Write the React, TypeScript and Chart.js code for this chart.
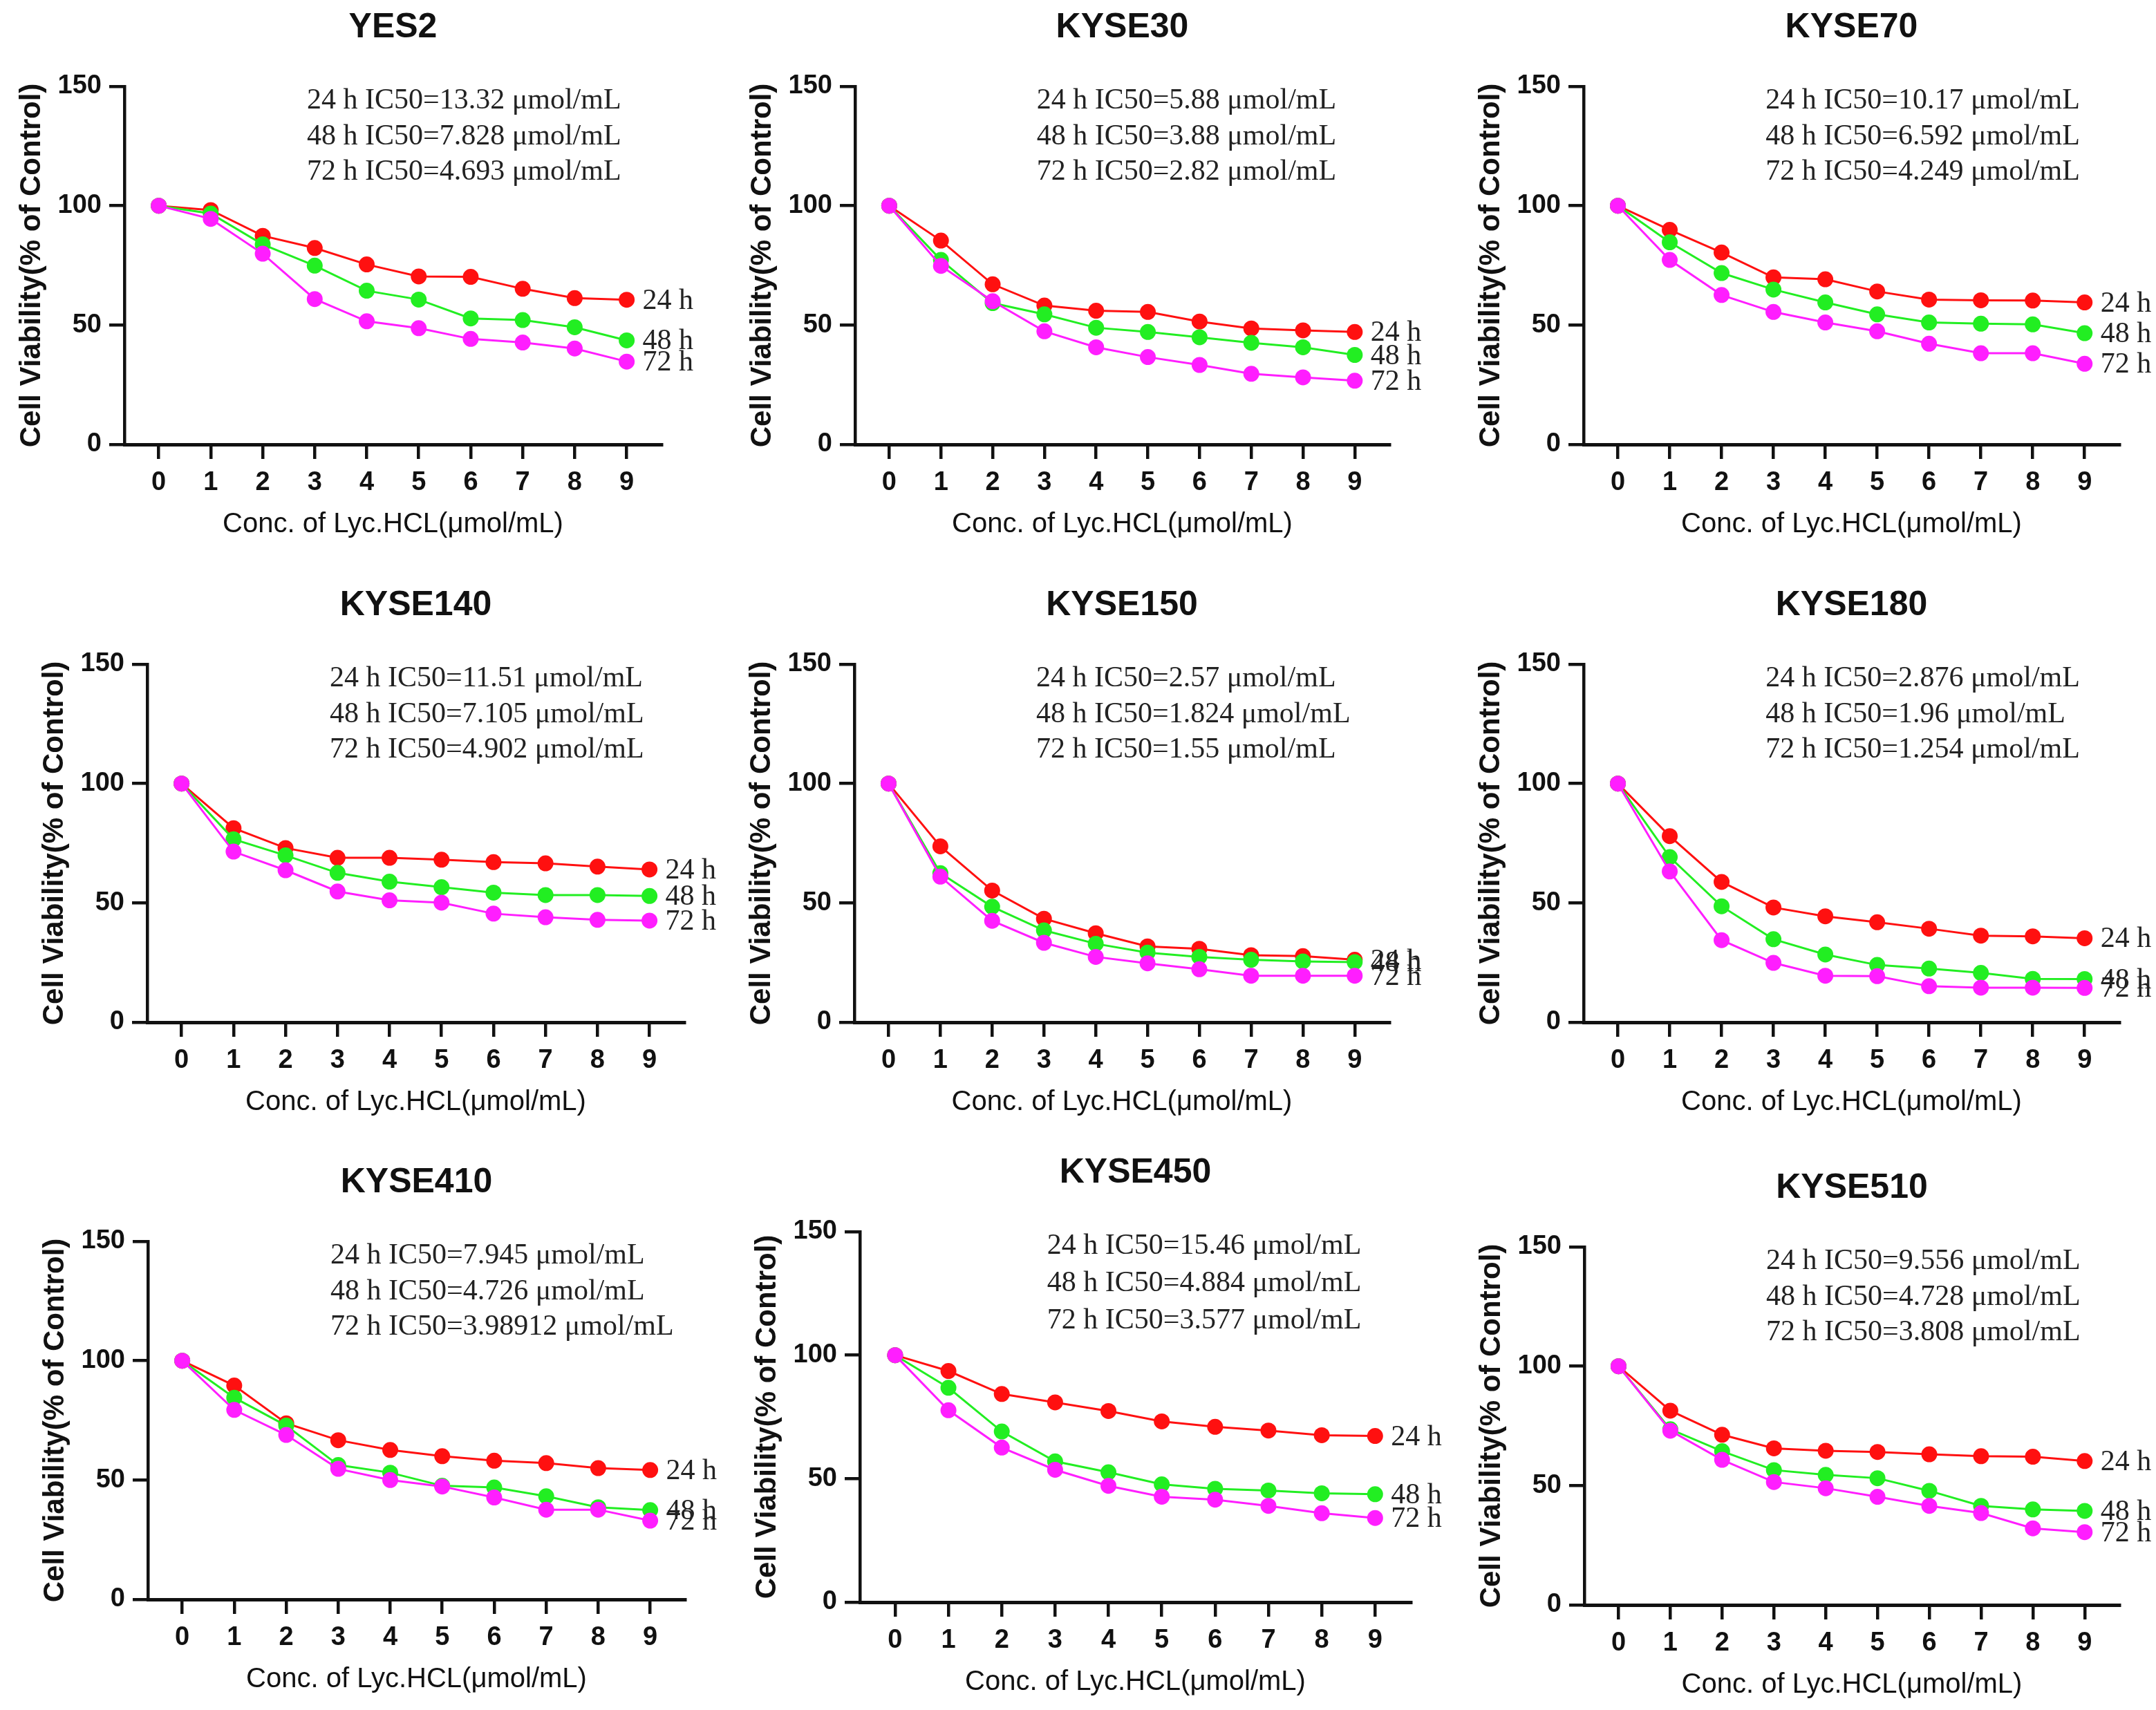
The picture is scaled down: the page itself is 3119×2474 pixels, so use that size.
import React, { useEffect, useRef } from "react";
import { Chart, registerables } from "chart.js";

Chart.register(...registerables);

// ---------- data ----------
const doses = [0, 1, 2, 3, 4, 5, 6, 7, 8, 9];
const timeLabels = ["24 h", "48 h", "72 h"];
const yTicks = [0, 50, 100, 150];

const YES2_24 = [100, 98.2, 87.4, 82.3, 75.4, 70.4, 70.2, 65.2, 61.3, 60.6];
const YES2_48 = [100, 96.7, 83.8, 74.9, 64.4, 60.7, 52.8, 52.1, 49.1, 43.6];
const YES2_72 = [100, 94.5, 79.9, 60.9, 51.6, 48.7, 44.2, 42.7, 40.2, 34.7];
const YES2_IC50 = ["13.32", "7.828", "4.693"];

const KYSE30_24 = [100, 85.4, 67.1, 58.2, 56.0, 55.5, 51.5, 48.6, 47.8, 47.1];
const KYSE30_48 = [100, 77.3, 59.2, 54.5, 48.9, 47.1, 44.9, 42.6, 40.7, 37.5];
const KYSE30_72 = [100, 74.8, 60.0, 47.4, 40.7, 36.6, 33.3, 29.6, 28.1, 26.7];
const KYSE30_IC50 = ["5.88", "3.88", "2.82"];

const KYSE70_24 = [100, 89.9, 80.4, 70.0, 69.2, 64.1, 60.7, 60.4, 60.3, 59.5];
const KYSE70_48 = [100, 84.7, 71.8, 64.9, 59.5, 54.5, 51.1, 50.6, 50.3, 46.6];
const KYSE70_72 = [100, 77.3, 62.6, 55.5, 51.1, 47.4, 42.2, 38.2, 38.2, 33.8];
const KYSE70_IC50 = ["10.17", "6.592", "4.249"];

const KYSE140_24 = [100, 81.3, 73.0, 68.9, 68.9, 68.1, 67.1, 66.6, 65.2, 64.0];
const KYSE140_48 = [100, 76.7, 69.9, 62.6, 58.9, 56.6, 54.3, 53.3, 53.3, 52.9];
const KYSE140_72 = [100, 71.5, 63.7, 54.8, 51.1, 50.1, 45.5, 44.0, 42.9, 42.6];
const KYSE140_IC50 = ["11.51", "7.105", "4.902"];

const KYSE150_24 = [100, 73.7, 55.2, 43.4, 37.3, 31.8, 30.8, 28.1, 27.7, 26.2];
const KYSE150_48 = [100, 62.5, 48.4, 38.5, 32.9, 29.2, 27.4, 26.2, 25.5, 25.2];
const KYSE150_72 = [100, 61.0, 42.5, 33.3, 27.4, 24.7, 22.2, 19.5, 19.5, 19.5];
const KYSE150_IC50 = ["2.57", "1.824", "1.55"];

const KYSE180_24 = [100, 78.0, 58.8, 48.1, 44.4, 41.9, 39.2, 36.3, 36.0, 35.2];
const KYSE180_48 = [100, 69.2, 48.6, 34.8, 28.4, 24.0, 22.5, 20.7, 18.2, 18.1];
const KYSE180_72 = [100, 63.2, 34.4, 24.9, 19.5, 19.3, 15.1, 14.5, 14.5, 14.4];
const KYSE180_IC50 = ["2.876", "1.96", "1.254"];

const KYSE410_24 = [100, 89.6, 73.8, 66.7, 62.6, 60.0, 58.1, 57.1, 55.0, 54.2];
const KYSE410_48 = [100, 84.5, 72.8, 56.3, 53.1, 47.6, 46.9, 43.2, 38.6, 37.4];
const KYSE410_72 = [100, 79.4, 68.9, 54.7, 50.0, 47.3, 42.7, 37.6, 37.6, 33.0];
const KYSE410_IC50 = ["7.945", "4.726", "3.98912"];

const KYSE450_24 = [100, 93.6, 84.3, 80.9, 77.4, 73.2, 71.0, 69.5, 67.6, 67.3];
const KYSE450_48 = [100, 86.8, 69.1, 57.0, 52.6, 47.7, 45.9, 45.2, 44.1, 43.7];
const KYSE450_72 = [100, 77.7, 62.6, 53.6, 47.1, 42.7, 41.5, 39.0, 36.0, 34.1];
const KYSE450_IC50 = ["15.46", "4.884", "3.577"];

const KYSE510_24 = [100, 81.4, 71.3, 65.6, 64.6, 64.1, 63.1, 62.3, 62.1, 60.3];
const KYSE510_48 = [100, 73.6, 64.4, 56.5, 54.5, 53.1, 47.8, 41.5, 40.0, 39.4];
const KYSE510_72 = [100, 73.0, 60.8, 51.5, 48.9, 45.3, 41.5, 38.5, 32.1, 30.5];
const KYSE510_IC50 = ["9.556", "4.728", "3.808"];

const panels = [
  { name: "YES2", series: [YES2_24, YES2_48, YES2_72], ic50: YES2_IC50 },
  { name: "KYSE30", series: [KYSE30_24, KYSE30_48, KYSE30_72], ic50: KYSE30_IC50 },
  { name: "KYSE70", series: [KYSE70_24, KYSE70_48, KYSE70_72], ic50: KYSE70_IC50 },
  { name: "KYSE140", series: [KYSE140_24, KYSE140_48, KYSE140_72], ic50: KYSE140_IC50 },
  { name: "KYSE150", series: [KYSE150_24, KYSE150_48, KYSE150_72], ic50: KYSE150_IC50 },
  { name: "KYSE180", series: [KYSE180_24, KYSE180_48, KYSE180_72], ic50: KYSE180_IC50 },
  { name: "KYSE410", series: [KYSE410_24, KYSE410_48, KYSE410_72], ic50: KYSE410_IC50 },
  { name: "KYSE450", series: [KYSE450_24, KYSE450_48, KYSE450_72], ic50: KYSE450_IC50 },
  { name: "KYSE510", series: [KYSE510_24, KYSE510_48, KYSE510_72], ic50: KYSE510_IC50 },
];

// ---------- layout / style ----------
const plotBoxes = [
  { L: 180, R: 957, T: 125, B: 643 },
  { L: 1237, R: 2010, T: 125, B: 643 },
  { L: 2291, R: 3066, T: 125, B: 643 },
  { L: 213, R: 990, T: 961, B: 1479 },
  { L: 1236, R: 2010, T: 961, B: 1479 },
  { L: 2291, R: 3066, T: 961, B: 1479 },
  { L: 214, R: 991, T: 1796, B: 2314 },
  { L: 1244, R: 2041, T: 1782, B: 2318 },
  { L: 2292, R: 3066, T: 1804, B: 2322 },
];

const colors = ["#FF1010", "#22EE22", "#FF1EFF"];
const SANS = '"Liberation Sans", Arial, Helvetica, sans-serif';
const SERIF = '"Liberation Serif", "Times New Roman", Times, serif';
const Y_AXIS_W = 159;
const X_AXIS_H = 140;
const PAD_TOP = 140;
const PAD_RIGHT = 80;

const textPlugin = {
  id: "panelText",
  afterDraw(chart: any, _args: any, opts: any) {
    const { ctx, chartArea, scales } = chart;
    ctx.save();
    ctx.fillStyle = "#111";
    ctx.textBaseline = "middle";
    // panel title
    ctx.font = `bold 50px ${SANS}`;
    ctx.textAlign = "center";
    ctx.fillText(opts.title, (chartArea.left + chartArea.right) / 2, chartArea.top - 85);
    // IC50 annotations
    ctx.font = `42px ${SERIF}`;
    ctx.fillStyle = "#222";
    ctx.textAlign = "left";
    const ax = scales.x.getPixelForValue(2.85);
    opts.ic50.forEach((v: string, i: number) => {
      ctx.fillText(`${timeLabels[i]} IC50=${v} μmol/mL`, ax, scales.y.getPixelForValue(144 - 15 * i));
    });
    // end-of-line labels
    chart.data.datasets.forEach((ds: any, i: number) => {
      const meta = chart.getDatasetMeta(i);
      const pt = meta.data[meta.data.length - 1];
      if (pt) ctx.fillText(ds.label, pt.x + 23, pt.y + 2);
    });
    ctx.restore();
  },
};

function Panel({ idx }: { idx: number }) {
  const ref = useRef<HTMLCanvasElement | null>(null);
  const p = panels[idx];
  const b = plotBoxes[idx];
  const left = b.L - Y_AXIS_W;
  const top = b.T - PAD_TOP;
  const width = b.R - b.L + Y_AXIS_W + PAD_RIGHT;
  const height = b.B - b.T + PAD_TOP + X_AXIS_H;

  useEffect(() => {
    if (!ref.current) return;
    const chart = new Chart(ref.current, {
      type: "line",
      data: {
        datasets: p.series.map((vals, i) => ({
          label: timeLabels[i],
          data: doses.map((d, j) => ({ x: d, y: vals[j] })),
          borderColor: colors[i],
          backgroundColor: colors[i],
          pointBackgroundColor: colors[i],
          pointBorderColor: colors[i],
          pointBorderWidth: 0,
          pointRadius: 11.5,
          borderWidth: 3,
          tension: 0,
          fill: false,
          order: 3 - i,
        })),
      },
      options: {
        animation: false,
        responsive: false,
        maintainAspectRatio: false,
        devicePixelRatio: 1,
        events: [],
        layout: { padding: { top: PAD_TOP, right: PAD_RIGHT, left: 0, bottom: 0 } },
        plugins: {
          legend: { display: false },
          tooltip: { enabled: false },
          title: { display: false },
          panelText: { title: p.name, ic50: p.ic50 },
        } as any,
        scales: {
          x: {
            type: "linear",
            min: -0.66,
            max: 9.67,
            afterBuildTicks: (scale: any) => {
              scale.ticks = doses.map((v) => ({ value: v }));
            },
            afterFit: (scale: any) => {
              scale.height = X_AXIS_H;
            },
            ticks: {
              color: "#111",
              padding: 12,
              maxRotation: 0,
              autoSkip: false,
              font: { family: SANS, size: 38, weight: "bold" },
              callback: (v: any) => String(v),
            },
            grid: {
              display: true,
              drawOnChartArea: false,
              drawTicks: true,
              tickLength: 21,
              tickWidth: 4.5,
              tickColor: "#111",
              color: "#111",
              lineWidth: 4.5,
            },
            border: { display: true, color: "#111", width: 5 },
            title: {
              display: true,
              text: "Conc. of Lyc.HCL(μmol/mL)",
              color: "#111",
              padding: 0,
              font: { family: SANS, size: 40, weight: "normal" },
            },
          },
          y: {
            type: "linear",
            min: 0,
            max: 150,
            afterBuildTicks: (scale: any) => {
              scale.ticks = yTicks.map((v) => ({ value: v }));
            },
            afterFit: (scale: any) => {
              scale.width = Y_AXIS_W;
            },
            ticks: {
              color: "#111",
              padding: 11,
              font: { family: SANS, size: 38, weight: "bold" },
              callback: (v: any) => String(v),
            },
            grid: {
              display: true,
              drawOnChartArea: false,
              drawTicks: true,
              tickLength: 22,
              tickWidth: 4.5,
              tickColor: "#111",
              color: "#111",
              lineWidth: 4.5,
            },
            border: { display: true, color: "#111", width: 4.5 },
            title: {
              display: true,
              text: "Cell Viability(% of Control)",
              color: "#111",
              padding: 0,
              font: { family: SANS, size: 42, weight: "bold" },
            },
          },
        },
      },
      plugins: [textPlugin as any],
    } as any);
    return () => chart.destroy();
  }, [idx]);

  return (
    <canvas
      ref={ref}
      width={width}
      height={height}
      style={{ position: "absolute", left, top, width, height, display: "block" }}
    />
  );
}

export default function App() {
  return (
    <div
      style={{
        position: "absolute",
        left: 0,
        top: 0,
        width: 3119,
        height: 2474,
        overflow: "hidden",
        background: "#ffffff",
      }}
    >
      {panels.map((_, i) => (
        <Panel key={i} idx={i} />
      ))}
    </div>
  );
}
